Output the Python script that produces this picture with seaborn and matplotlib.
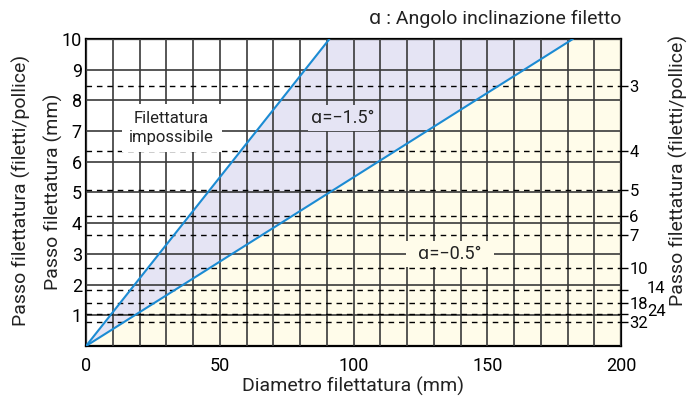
import numpy as np
import pandas as pd
import matplotlib
matplotlib.use("Agg")
import matplotlib.pyplot as plt
import matplotlib.transforms as mtransforms
import seaborn as sns

# Limit lines of the thread lead angle: pitch (mm) reached at a given diameter (mm)
steep_diam = [0, 91]
steep_pitch = [0, 10]
shallow_diam = [0, 182]
shallow_pitch = [0, 10]
angle_labels = ["ɑ=−1.5°", "ɑ=−0.5°"]

# Imperial threads (threads per inch) shown as reference pitches
tpi = [3, 4, 5, 6, 7, 10, 14, 18, 24, 32]
tpi_shifted = [14, 24]

x_ticks = [0, 50, 100, 150, 200]
y_ticks = [1, 2, 3, 4, 5, 6, 7, 8, 9, 10]

sns.set_theme(style="white")
plt.rcParams["font.family"] = ["Roboto", "DejaVu Sans"]

lavender = "#e5e4f4"
cream = "#fffcea"
blue = "#1b8bd3"
grid_c = "#3a3a3a"
text_c = "#222222"

fig = plt.figure(figsize=(6.88, 3.96), dpi=100)
ax = fig.add_axes([86 / 688, 1 - 346 / 396, (621 - 86) / 688, (346 - 39) / 396])

xmax, ymax = x_ticks[-1], y_ticks[-1]

# shaded regions
ax.fill([steep_diam[0], steep_diam[1], shallow_diam[1]],
        [steep_pitch[0], steep_pitch[1], shallow_pitch[1]],
        color=lavender, lw=0, zorder=1)
ax.fill([shallow_diam[0], shallow_diam[1], xmax, xmax],
        [shallow_pitch[0], shallow_pitch[1], ymax, 0],
        color=cream, lw=0, zorder=1)

lines = pd.DataFrame({
    "diam": steep_diam + shallow_diam,
    "pitch": steep_pitch + shallow_pitch,
    "angle": [angle_labels[0]] * 2 + [angle_labels[1]] * 2,
})
sns.lineplot(data=lines, x="diam", y="pitch", units="angle", estimator=None,
             color=blue, lw=1.5, ax=ax, zorder=4, legend=False)

# grid
ax.set_axisbelow(False)
ax.set_xlim(0, xmax)
ax.set_ylim(0, ymax)
ax.set_xticks(x_ticks)
ax.set_xticks(np.arange(10, xmax, 10), minor=True)
ax.set_yticks(y_ticks)
ax.grid(which="both", axis="x", color=grid_c, lw=1.2, zorder=2.5)
ax.grid(which="major", axis="y", color=grid_c, lw=1.2, zorder=2.5)

tpi_pitch = [25.4 / t for t in tpi]
for p in tpi_pitch:
    ax.axhline(p, color="black", lw=1.0, ls=(0, (4, 3.5)), zorder=2.6)

for s in ax.spines.values():
    s.set_color("black")
    s.set_linewidth(1.6)

ax.tick_params(axis="y", length=0, labelsize=13, pad=3, colors="black")
ax.tick_params(axis="x", which="major", length=6, width=1.5, labelsize=13,
               pad=2, colors="black", direction="out")
ax.tick_params(axis="x", which="minor", length=0)
for t in ax.xaxis.get_major_ticks():
    if t.get_loc() not in (0, xmax):
        t.tick1line.set_visible(False)

ax.set_xlabel("Diametro filettatura (mm)", fontsize=14, labelpad=1, color=text_c)
ax.set_ylabel("")

# right axis in threads per inch
ax2 = ax.twinx()
ax2.set_ylim(0, ymax)
ax2.set_yticks(tpi_pitch)
ax2.set_yticklabels([str(t) if t not in tpi_shifted else "" for t in tpi])
ax2.tick_params(axis="y", length=5, width=1.0, labelsize=12, pad=1,
                colors="black", direction="out")
for s in ax2.spines.values():
    s.set_visible(False)
ax2.grid(False)
shift = mtransforms.offset_copy(ax2.get_yaxis_transform(), fig=fig, x=26, y=2, units="dots")
for t, p in zip(tpi, tpi_pitch):
    if t in tpi_shifted:
        ax2.text(1.0, p, str(t), transform=shift, ha="left", va="center",
                 fontsize=12, color="black")

# region labels
ax.text(32, 7.1, "Filettatura\nimpossibile", ha="center", va="center",
        fontsize=12, color=text_c, linespacing=1.3, zorder=5,
        bbox=dict(boxstyle="square,pad=0.45", fc="white", ec="none"))
ax.text(96, 7.43, angle_labels[0], ha="center", va="center", fontsize=13,
        color=text_c, zorder=5,
        bbox=dict(boxstyle="square,pad=0.2", fc=lavender, ec="none"))
ax.text(136, 3.0, "  " + angle_labels[1] + "  ", ha="center", va="center",
        fontsize=13, color=text_c, zorder=5,
        bbox=dict(boxstyle="square,pad=0.2", fc=cream, ec="none"))

ax.text(1.0, 1.065, "ɑ : Angolo inclinazione filetto", transform=ax.transAxes,
        ha="right", va="center", fontsize=14, color=text_c)

fig.text(53 / 688, 1 - 192 / 396, "Passo filettatura (mm)",
         rotation=90, ha="center", va="center", fontsize=14, color=text_c)
fig.text(21 / 688, 1 - 190 / 396, "Passo filettatura (filetti/pollice)",
         rotation=90, ha="center", va="center", fontsize=14, color=text_c)
fig.text(678 / 688, 1 - 170 / 396, "Passo filettatura (filetti/pollice)",
         rotation=90, ha="center", va="center", fontsize=14, color=text_c)

fig.savefig("out.png", dpi=100)
